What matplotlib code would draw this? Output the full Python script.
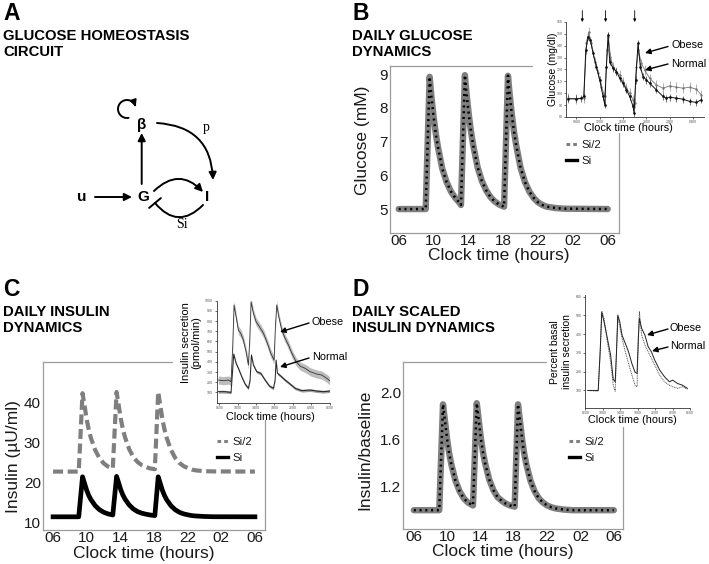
import numpy as np
import matplotlib
matplotlib.use('Agg')
import matplotlib.pyplot as plt
from matplotlib.lines import Line2D
from matplotlib.patches import FancyArrowPatch, ArrowStyle
from matplotlib.path import Path

plt.rcParams['font.family'] = ['Liberation Sans', 'DejaVu Sans']

W, H = 709, 564

# ---- model curves, clock time in hours (06 = 6, next day 06 = 30)
hours_g = [6, 9.1, 9.55, 9.75, 10.0, 10.25, 10.5, 11.0, 11.5, 12.0, 12.5, 13.0, 13.15,
           13.6, 13.8, 14.05, 14.3, 14.55, 15.05, 15.55, 16.05, 16.55, 17.05, 17.55, 18.1,
           18.55, 18.75, 19.0, 19.25, 19.5, 20.0, 20.5, 21.0, 21.5, 22.0, 22.5, 23.0, 24.0, 25.0, 30.0]
glucose_si = [5.0, 5.0, 8.92, 8.35, 7.75, 7.25, 6.85, 6.2, 5.8, 5.52, 5.33, 5.18, 5.12,
              8.97, 8.4, 7.8, 7.3, 6.9, 6.25, 5.83, 5.55, 5.35, 5.22, 5.13, 5.07,
              8.95, 8.38, 7.78, 7.28, 6.88, 6.22, 5.8, 5.52, 5.33, 5.2, 5.12, 5.07, 5.03, 5.01, 5.0]
glucose_si2 = list(glucose_si)   # same glucose for Si/2

hours_i = [6, 9.05, 9.5, 9.75, 10.0, 10.25, 10.5, 11.0, 11.5, 12.0, 12.5, 13.1,
           13.55, 13.8, 14.05, 14.3, 14.55, 15.05, 15.55, 16.05, 16.55, 17.05, 17.55, 18.1,
           18.5, 18.75, 19.0, 19.25, 19.5, 20.0, 20.5, 21.0, 21.5, 22.0, 22.5, 23.0, 24.0, 25.0, 30.0]
insulin_si = [11.3, 11.3, 21.3, 19.6, 17.9, 16.6, 15.6, 14.1, 13.1, 12.45, 12.05, 11.75,
              21.4, 19.75, 18.05, 16.75, 15.75, 14.25, 13.25, 12.6, 12.2, 11.95, 11.75, 11.6,
              21.3, 19.6, 17.9, 16.6, 15.6, 14.1, 13.1, 12.45, 12.05, 11.8, 11.6, 11.5, 11.38, 11.32, 11.3]
insulin_si2 = [22.6, 22.6, 42.2, 39.0, 35.6, 33.0, 31.0, 28.0, 26.0, 24.7, 23.9, 23.4,
               42.5, 39.2, 35.8, 33.2, 31.2, 28.2, 26.2, 25.0, 24.2, 23.7, 23.4, 23.2,
               42.5, 39.1, 35.7, 33.1, 31.1, 28.1, 26.1, 24.8, 24.0, 23.5, 23.1, 22.9, 22.7, 22.65, 22.6]
scaled_si = [1.0, 1.0, 1.90, 1.75, 1.60, 1.48, 1.39, 1.25, 1.16, 1.10, 1.065, 1.04,
             1.91, 1.76, 1.61, 1.49, 1.40, 1.26, 1.17, 1.11, 1.08, 1.055, 1.04, 1.03,
             1.90, 1.75, 1.60, 1.48, 1.39, 1.25, 1.16, 1.10, 1.065, 1.04, 1.025, 1.015, 1.005, 1.0, 1.0]
scaled_si2 = list(scaled_si)

clock_ticks = [6, 10, 14, 18, 22, 26, 30]
clock_labels = ['06', '10', '14', '18', '22', '02', '06']

# ---- inset data (measured curves, obese vs normal)
meal_hours = [9, 13, 18]

glu_normal_h = [6.57, 8.0, 8.86, 9.26, 9.6, 10.0, 10.4, 10.86, 11.43, 12.0, 12.57, 12.86, 13.14,
                13.43, 13.71, 14.29, 14.86, 15.43, 16.0, 16.57, 17.14, 17.71, 17.89, 18.17, 18.57,
                18.97, 19.43, 20.0, 20.57, 21.71, 22.86, 23.43, 24.0, 25.14, 26.29, 27.43, 28.57, 29.43]
glu_normal_v = [95.3, 95.3, 95.9, 97.3, 136.3, 147.5, 144.7, 133.5, 122.4, 111.2, 97.3, 90.3, 122.4,
                148.9, 126.5, 121.0, 118.2, 112.6, 108.4, 102.9, 97.3, 88.9, 83.3, 111.2, 141.9,
                122.4, 114.0, 111.2, 108.4, 102.9, 97.3, 95.9, 96.7, 95.9, 95.0, 93.1, 92.3, 94.5]
glu_obese_h = [6.57, 8.0, 9.26, 9.71, 10.11, 10.57, 11.14, 11.71, 12.29, 12.86, 13.26, 13.49,
               13.83, 14.29, 14.86, 15.43, 16.0, 16.57, 17.14, 17.71, 18.0, 18.29, 18.63, 19.14,
               19.71, 20.57, 21.71, 22.86, 24.0, 25.14, 26.29, 27.43, 28.57, 29.43]
glu_obese_v = [95.9, 95.0, 95.9, 141.9, 151.6, 141.9, 126.5, 116.8, 105.6, 97.3, 136.3, 147.5,
               130.7, 122.4, 118.2, 115.4, 109.8, 104.3, 100.1, 94.5, 91.7, 122.4, 136.3, 125.2,
               119.6, 112.6, 107.0, 104.3, 106.2, 105.1, 104.3, 105.1, 103.4, 98.7]

sec_obese_h = [5.78, 6.87, 7.96, 8.54, 8.91, 9.2, 9.64, 10.14, 10.65, 11.23, 11.82, 12.32, 12.62,
               12.91, 13.42, 14.0, 14.73, 15.6, 16.47, 17.2, 17.92, 18.21, 18.5, 18.94, 19.6,
               20.32, 21.05, 21.78, 22.72, 23.6, 24.68, 25.77, 27.23, 28.32, 29.41, 30.0]
sec_obese_v = [222, 216, 222, 206, 549, 958, 843, 712, 680, 614, 500, 369, 614,
               990, 876, 794, 745, 680, 582, 484, 418, 745, 958, 843, 712,
               631, 565, 484, 402, 359, 337, 304, 281, 271, 239, 216]
sec_normal_h = [5.78, 7.24, 8.54, 8.84, 9.13, 9.64, 10.14, 10.87, 11.6, 12.32, 12.69, 12.98,
                13.42, 14.14, 15.02, 15.96, 16.91, 17.78, 18.14, 18.36, 18.65, 19.38, 20.32,
                21.41, 22.5, 23.96, 25.77, 27.23, 28.68, 30.0]
sec_normal_v = [108, 108, 101, 288, 477, 386, 337, 255, 183, 141, 222, 467,
                369, 304, 288, 222, 163, 141, 222, 418, 288, 261, 222,
                183, 141, 118, 124, 114, 108, 114]

pct_h = [6.53, 8.93, 9.38, 9.75, 10.28, 11.03, 11.78, 12.38, 12.83, 13.13, 13.43, 13.88, 14.4,
         15.15, 15.9, 16.65, 17.4, 17.85, 18.15, 18.38, 18.9, 19.65, 20.4, 21.15, 21.9,
         23.03, 24.15, 25.28, 26.03, 27.15, 28.28, 29.4]
pct_obese = [100, 100, 306, 516, 466, 378, 289, 160, 146, 306, 502, 466, 395,
             351, 306, 244, 196, 191, 378, 484, 431, 395, 333, 306, 262,
             209, 173, 146, 155, 137, 128, 111]
pct_normal = [100, 96, 306, 523, 484, 360, 253, 128, 96, 306, 493, 440, 378,
              306, 244, 182, 128, 120, 395, 520, 395, 342, 306, 271, 235,
              182, 146, 128, 120, 111, 120, 107]

GREY = '#7f7f7f'
FRAME = '#9c9c9c'
TXT = '#1a1a1a'

fig = plt.figure(figsize=(W / 100, H / 100), dpi=100)


def box(l, t, r, b):
    return [l / W, 1 - b / H, (r - l) / W, (b - t) / H]


def main_axes(rect, xlim, ylim, yticks, ylabels, ylabel, ylab_xy, xlab_xy):
    ax = fig.add_axes(box(*rect))
    ax.set_xlim(*xlim)
    ax.set_ylim(*ylim)
    ax.set_xticks(clock_ticks, clock_labels)
    ax.set_yticks(yticks, ylabels)
    for s in ax.spines.values():
        s.set_color(FRAME)
        s.set_linewidth(0.9)
    ax.tick_params(length=0, pad=1.5, labelsize=11, labelcolor=TXT)
    ax.tick_params(axis='x', pad=0.5)
    ax.set_xlabel('Clock time (hours)', fontsize=12.5, color=TXT, va='center')
    ax.set_ylabel(ylabel, fontsize=12.5, color=TXT, va='center')
    ax.xaxis.set_label_coords(*xlab_xy)
    ax.yaxis.set_label_coords(*ylab_xy)
    return ax


def add_legend(ax, x, y):
    handles = [Line2D([], [], color=GREY, lw=2.2, dashes=(1.2, 1.0)),
               Line2D([], [], color='k', lw=2.4)]
    ax.legend(handles, ['Si/2', 'Si'], loc='upper left', frameon=False,
              bbox_to_anchor=(x / W, 1 - y / H), bbox_transform=fig.transFigure,
              borderpad=0, borderaxespad=0, handlelength=1.0, handletextpad=0.4,
              labelspacing=0.55, fontsize=8.2, labelcolor=TXT)


def overlap_plot(ax, hh, v_si2, v_si):
    ax.plot(hh, v_si2, color=GREY, lw=4.6, solid_joinstyle='round', solid_capstyle='round')
    ax.plot(hh, v_si, color='k', lw=1.8, dashes=(0.8, 1.5))


def inset_axes(cover, rect, xlim, ylim, yticks, xtick_labels, xticks):
    bg = fig.add_axes(box(*cover), zorder=3)
    bg.set_xticks([])
    bg.set_yticks([])
    for s in bg.spines.values():
        s.set_visible(False)
    ax = fig.add_axes(box(*rect), zorder=4)
    ax.set_facecolor('white')
    ax.set_xlim(*xlim)
    ax.set_ylim(*ylim)
    ax.spines['top'].set_visible(False)
    ax.spines['right'].set_visible(False)
    for s in ['left', 'bottom']:
        ax.spines[s].set_linewidth(0.6)
        ax.spines[s].set_color('#333333')
    ax.set_yticks(yticks, [str(t) for t in yticks])
    ax.set_xticks(xticks, xtick_labels)
    ax.tick_params(length=1.5, width=0.4, pad=1, labelsize=2.5, labelcolor='#555555')
    return ax


# ---------------- panel B : glucose
axB = main_axes((390, 66, 619, 233), (5.0, 31.3), (4.29, 9.24), [5, 6, 7, 8, 9],
                ['5', '6', '7', '8', '9'], 'Glucose (mM)', (-0.118, 0.557), (0.476, -0.136))
overlap_plot(axB, hours_g, glucose_si2, glucose_si)
add_legend(axB, 566, 140)

# ---------------- panel C : insulin
axC = main_axes((43, 362, 265, 530), (4.8, 31.2), (8, 50), [10, 20, 30, 40],
                ['10', '20', '30', '40'], 'Insulin (\u00b5U/ml)', (-0.134, 0.436), (0.455, -0.14))
axC.plot(hours_i, insulin_si2, color=GREY, lw=3.0, dashes=(2.4, 1.1))
axC.plot(hours_i, insulin_si, color='k', lw=3.4, solid_joinstyle='round')
add_legend(axC, 217, 437)

# ---------------- panel D : scaled insulin
axD = main_axes((403, 362, 623, 529), (4.7, 31.1), (0.84, 2.26), [1.2, 1.6, 2.0],
                ['1.2', '1.6', '2.0'], 'Insulin/baseline', (-0.173, 0.473), (0.452, -0.136))
overlap_plot(axD, hours_i, scaled_si2, scaled_si)
add_legend(axD, 569, 437)

# ---------------- inset B : measured glucose
iB = inset_axes((533, 0, 709, 133), (566, 22, 704, 117), (6.2, 29.9), (80, 160),
                [80, 90, 100, 110, 120, 130, 140, 150, 160],
                ['0800', '1200', '1600', '2000', '2400', '0400'], [8, 12, 16, 20, 24, 28])
iB.errorbar(glu_obese_h, glu_obese_v, yerr=4, color='#777777', lw=0.6, elinewidth=0.4,
            marker='.', ms=1.5, capsize=0)
iB.errorbar(glu_normal_h, glu_normal_v, yerr=3, color='#111111', lw=0.7, elinewidth=0.4,
            marker='.', ms=1.8, capsize=0)
iB.set_ylabel('Glucose (mg/dl)', fontsize=7.5, va='center')
iB.yaxis.set_label_coords(-0.094, 0.5)
iB.set_xlabel('Clock time (hours)', fontsize=7.8, va='center')
iB.xaxis.set_label_coords(0.45, -0.116)
for mh in meal_hours:
    iB.annotate('', xy=(mh, 1.0), xycoords=iB.get_xaxis_transform(),
                xytext=(mh, 1.12), textcoords=iB.get_xaxis_transform(),
                arrowprops=dict(arrowstyle='-|>', color='k', lw=0.6, mutation_scale=4,
                                shrinkA=0, shrinkB=0))

# ---------------- inset C : measured insulin secretion
iC = inset_axes((173, 280, 350, 420), (216.7, 300.7, 330, 402.7), (5.42, 30.1), (0, 1000),
                [100, 200, 300, 400, 500, 600, 700, 800, 900, 1000],
                ['0600', '1000', '1400', '1800', '2200', '0200', '0600'], clock_ticks)
iC.fill_between(sec_obese_h, [v - 40 for v in sec_obese_v], [v + 40 for v in sec_obese_v],
                color='#bdbdbd', lw=0)
iC.fill_between(sec_normal_h, [v - 14 for v in sec_normal_v], [v + 14 for v in sec_normal_v],
                color='#a0a0a0', lw=0)
iC.plot(sec_obese_h, sec_obese_v, color='#333333', lw=0.6)
iC.plot(sec_normal_h, sec_normal_v, color='#222222', lw=0.7)
iC.set_ylabel('Insulin secretion\n(pmol/min)', fontsize=8, va='center', linespacing=1.1)
iC.yaxis.set_label_coords(-0.227, 0.585)
iC.set_xlabel('Clock time (hours)', fontsize=7.8, va='center')
iC.xaxis.set_label_coords(0.47, -0.14)

# ---------------- inset D : percent basal secretion
iD = inset_axes((547, 280, 709, 427), (585, 295, 690, 407.7), (5.9, 30.0), (8, 609),
                [100, 200, 300, 400, 500, 600],
                ['0600', '1000', '1400', '1800', '2200', '0200', '0600'], clock_ticks)
iD.plot(pct_h, pct_normal, color='#555555', lw=0.7, ls=(0, (1, 0.8)))
iD.plot(pct_h, pct_obese, color='#222222', lw=0.7)
iD.set_ylabel('Percent basal\ninsulin secretion', fontsize=7.5, va='center', linespacing=1.15)
iD.yaxis.set_label_coords(-0.229, 0.494)
iD.set_xlabel('Clock time (hours)', fontsize=7.8, va='center')
iD.xaxis.set_label_coords(0.448, -0.109)

# ---------------- overlay in pixel coordinates: titles, diagram, callouts
ov = fig.add_axes([0, 0, 1, 1], zorder=10)
ov.set_xlim(0, W)
ov.set_ylim(H, 0)
ov.set_axis_off()
ov.patch.set_alpha(0)

titles = [('A', ['GLUCOSE HOMEOSTASIS', 'CIRCUIT'], 3, 20),
          ('B', ['DAILY GLUCOSE', 'DYNAMICS'], 352, 20),
          ('C', ['DAILY INSULIN', 'DYNAMICS'], 3, 296),
          ('D', ['DAILY SCALED', 'INSULIN DYNAMICS'], 352, 296)]
for letter, lines, x, y in titles:
    ov.text(x, y, letter, fontsize=16.5, fontweight='bold', va='baseline', ha='left')
    for k, line in enumerate(lines):
        ov.text(x, y + 20 + 16.5 * k, line, fontsize=10.7, fontweight='bold',
                va='baseline', ha='left')

callouts = [(671, 45, 668, 46.5, 645, 53), (671, 64, 668, 64, 645, 70),
            (312, 322, 309, 323, 280, 332), (312, 357, 309, 358, 280, 367),
            (670, 328, 668, 329, 647, 335), (670, 346, 668, 347, 652, 351)]
names = ['Obese', 'Normal'] * 3
for (tx, ty, x0, y0, x1, y1), nm in zip(callouts, names):
    ov.text(tx, ty, nm, fontsize=7.8, va='center', ha='left')
    ov.add_patch(FancyArrowPatch((x0, y0), (x1, y1), arrowstyle='-|>', mutation_scale=8,
                                 lw=1.0, color='k', shrinkA=0, shrinkB=0))

# circuit diagram
node_kw = dict(fontsize=11, fontweight='bold', ha='center', va='center')
ov.text(141.7, 125, '\u03b2', **node_kw)
ov.text(143.3, 197, 'G', **node_kw)
ov.text(81.7, 197, 'u', **node_kw)
ov.text(206.7, 197, 'I', **node_kw)
ov.text(206.7, 127, 'p', fontsize=10, family='Liberation Serif', ha='center', va='center')
ov.text(181.7, 225, 'Si', fontsize=10, family='Liberation Serif', ha='center', va='center')

akw = dict(arrowstyle='-|>', mutation_scale=11, lw=1.4, color='k', shrinkA=0, shrinkB=0)
ov.add_patch(FancyArrowPatch((95, 197), (132, 197), **akw))
ov.add_patch(FancyArrowPatch((141.7, 184), (141.7, 133), **akw))
ov.add_patch(FancyArrowPatch((157, 123), (213, 180), connectionstyle='arc3,rad=-0.45', **akw))
ov.add_patch(FancyArrowPatch((154, 191), (203, 192), connectionstyle='arc3,rad=-0.5', **akw))
ov.add_patch(FancyArrowPatch((203, 205), (155, 203), connectionstyle='arc3,rad=-0.55',
                             arrowstyle=ArrowStyle('-[', widthB=0.5, lengthB=0),
                             mutation_scale=11, lw=1.4, color='k', shrinkA=0, shrinkB=0))
t = np.radians(np.linspace(80, 345, 30))
loop = Path(np.column_stack([127 + 9 * np.cos(t), 109 + 9 * np.sin(t)]))
ov.add_patch(FancyArrowPatch(path=loop, arrowstyle='-|>', mutation_scale=9, lw=1.4, color='k'))

fig.savefig('out.png', dpi=100)
